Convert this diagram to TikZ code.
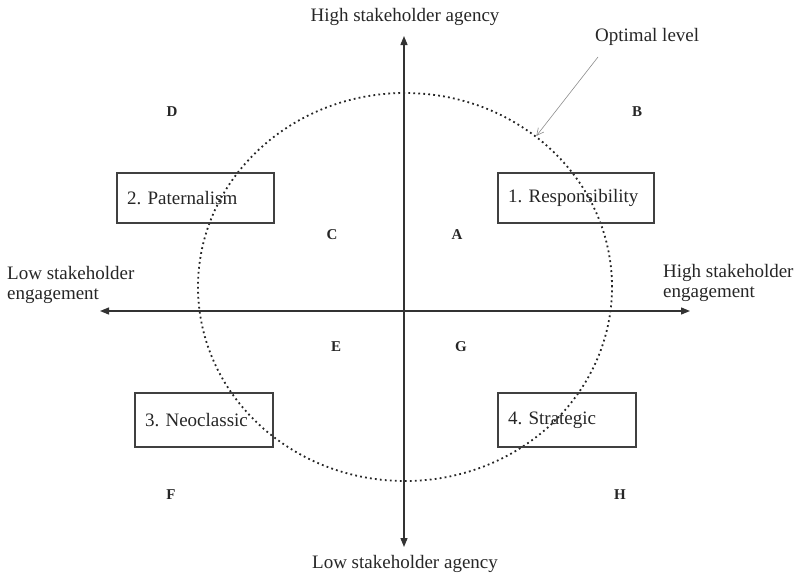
\documentclass[tikz,border=0pt]{standalone}
\usepackage{fontspec}
\setmainfont{Liberation Serif}
\usetikzlibrary{arrows.meta,shapes.geometric}

\tikzset{
  axisline/.style={draw=black!80, line width=1.3pt, {Triangle[length=9pt,width=7pt]}-{Triangle[length=9pt,width=7pt]}},
  quadbox/.style={draw=black!75, line width=1.4pt, text=black!85, text width=#1, align=left,
    inner xsep=10pt, inner ysep=0pt, font=\fontsize{19}{22}\selectfont},
  cornerletter/.style={text=black!85, font=\fontsize{15}{17}\selectfont\bfseries},
  axislabel/.style={text=black!85, font=\fontsize{19}{20}\selectfont, inner sep=0pt}
}

\begin{document}
\frenchspacing
\begin{tikzpicture}[x=1pt, y=-1pt]
			%%%%% START %%%%%
			\useasboundingbox (0, 0) rectangle (798, 574);
			
			% the optimal ring
			\node[ellipse, draw=black!85, line width=1.8pt, dash pattern=on 1.8pt off 3.2pt,
			      minimum width=414, minimum height=388, inner sep=0pt] (ring) at (405, 287) {};
			
			% axes
			\coordinate (ytop) at (404, 36);
			\coordinate (ybot) at (404, 547);
			\coordinate (xleft) at (100, 311);
			\coordinate (xright) at (690, 311);
			\draw[axisline] (ybot) -- (ytop);
			\draw[axisline] (xleft) -- (xright);
			
			\node[axislabel] (highagency) at (405, 17) {High stakeholder agency};
			\node[axislabel] (lowagency) at (405, 564) {Low stakeholder agency};
			\node[axislabel, anchor=west, align=left] (lowengage) at (7, 285) {Low stakeholder\\engagement};
			\node[axislabel, anchor=west, align=left] (highengage) at (663, 283) {High stakeholder\\engagement};
			
			% the four positions
			\node[quadbox=136pt, minimum height=50pt] (resp) at (576, 198) {1. Responsibility};
			\node[quadbox=137pt, minimum height=50pt] (pater) at (195.5, 198) {2. Paternalism};
			\node[quadbox=118pt, minimum height=54pt] (neo) at (204, 420) {3. Neoclassic};
			\node[quadbox=118pt, minimum height=54pt] (strat) at (567, 420) {4. Strategic};
			
			% quadrant letters
			\node[cornerletter] (lblD) at (172, 112) {D};
			\node[cornerletter] (lblB) at (637, 112) {B};
			\node[cornerletter] (lblC) at (332, 235) {C};
			\node[cornerletter] (lblA) at (457, 235) {A};
			\node[cornerletter] (lblE) at (336, 347) {E};
			\node[cornerletter] (lblG) at (461, 347) {G};
			\node[cornerletter] (lblF) at (171, 495) {F};
			\node[cornerletter] (lblH) at (620, 495) {H};
			
			% optimal level pointer
			\node[axislabel, anchor=west] (optimal) at (595, 37) {Optimal level};
			\coordinate (opttail) at (598, 57);
			\draw[black!45, line width=0.6pt, -{Straight Barb[length=7pt,width=7pt]}] (opttail) -- (ring.49);
			
			%%%%% END %%%%%
		\end{tikzpicture}
\end{document}
